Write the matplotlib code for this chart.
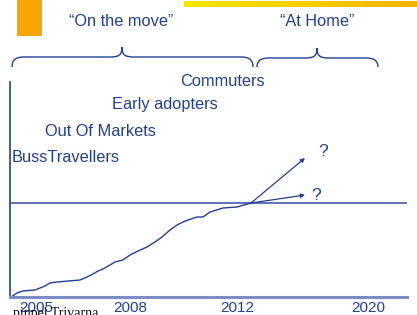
"""Adoption curve slide: 'On the move' vs 'At Home' segments."""
import matplotlib
matplotlib.use("Agg")
import matplotlib.pyplot as plt
import numpy as np
from matplotlib.path import Path
from matplotlib.patches import PathPatch, Rectangle

# timeline units along x, adoption units along y
TICK_POS = [26, 120, 227, 358]
TICK_LABELS = ["2005", "2008", "2012", "2020"]

CURVE_X = [1, 7, 13, 25, 30, 35, 40, 47, 70, 77, 83, 88, 93, 100, 105, 113,
           120, 128, 137, 145, 152, 160, 167, 173, 178, 187, 193, 200, 213,
           227, 241]
CURVE_Y = [0, 4, 6, 7, 9, 11, 14, 15, 17, 20, 23, 26, 28, 32, 35, 37,
           42, 46, 50, 55, 60, 67, 72, 75, 77, 80, 80, 85, 89, 90, 94]

PLATEAU = 94
ARROW_END_X = 295
ARROW_END_Y = [139, 102]

SEGMENTS = ["BussTravellers", "Out Of Markets", "Early adopters", "Commuters"]
SEGMENT_X = [2, 35, 102, 170]
SEGMENT_Y = [139, 166, 193, 215]

BLUE = "#213f95"
LINE_BLUE = "#5268b0"
AXIS_BLUE = "#7d8cc4"

W, H = 417, 315
plt.rcParams["font.family"] = ["Liberation Sans", "DejaVu Sans"]

fig = plt.figure(figsize=(W / 100, H / 100), dpi=100)

# overlay in pixel space for slide decorations
deco = fig.add_axes([0, 0, 1, 1])
deco.set_xlim(0, W)
deco.set_ylim(H, 0)
deco.set_axis_off()

deco.add_patch(Rectangle((17, 0), 25, 36, color="#f8a500", lw=0))
grad = np.linspace(0, 1, 256).reshape(1, -1)
cmap = matplotlib.colors.LinearSegmentedColormap.from_list(
    "bar", ["#f6e600", "#f8d000", "#f7b200"])
deco.imshow(grad, cmap=cmap, extent=(184, W, 7, 1), aspect="auto")
deco.set_xlim(0, W)
deco.set_ylim(H, 0)


def brace(ax, x0, x1, tip, y_end=67, y_mid=57, y_tip=47):
    r = 12
    verts = [(x0, y_end), (x0, y_mid + 2), (x0 + 5, y_mid), (x0 + r, y_mid),
             (tip - r, y_mid), (tip - 3, y_mid), (tip, y_mid - 2), (tip, y_tip),
             (tip, y_mid - 2), (tip + 3, y_mid), (tip + r, y_mid),
             (x1 - r, y_mid), (x1 - 5, y_mid), (x1, y_mid + 2), (x1, y_end)]
    codes = [Path.MOVETO, Path.CURVE4, Path.CURVE4, Path.CURVE4,
             Path.LINETO, Path.CURVE4, Path.CURVE4, Path.CURVE4,
             Path.CURVE4, Path.CURVE4, Path.CURVE4,
             Path.LINETO, Path.CURVE4, Path.CURVE4, Path.CURVE4]
    ax.add_patch(PathPatch(Path(verts, codes), fill=False, edgecolor=BLUE, lw=1.0))


brace(deco, 12, 253, 122)
brace(deco, 257, 378, 317, y_mid=58, y_tip=48)

deco.text(121, 21, "\u201cOn the move\u201d", ha="center", va="center",
          fontsize=11.8, color=BLUE)
deco.text(317, 21, "\u201cAt Home\u201d", ha="center", va="center",
          fontsize=11.8, color=BLUE)

# main chart
ax = fig.add_axes([10 / W, 18 / H, 397 / W, 215 / H])
ax.set_xlim(0, 397)
ax.set_ylim(0, 215)
ax.patch.set_alpha(0)
for side in ["top", "right"]:
    ax.spines[side].set_visible(False)
ax.spines["left"].set_color(BLUE)
ax.spines["left"].set_linewidth(1.2)
ax.spines["bottom"].set_color(AXIS_BLUE)
ax.spines["bottom"].set_linewidth(2.2)
ax.set_yticks([])
ax.set_xticks(TICK_POS)
ax.set_xticklabels(TICK_LABELS)
ax.tick_params(axis="x", length=0, pad=3, labelsize=11, labelcolor=BLUE)

ax.axhline(PLATEAU, color=LINE_BLUE, lw=1.3)
ax.plot(CURVE_X, CURVE_Y, color=BLUE, lw=1.0)

x_last, y_last = CURVE_X[-1], CURVE_Y[-1]
for y_end in ARROW_END_Y:
    ax.annotate("", xy=(ARROW_END_X, y_end), xytext=(x_last, y_last),
                arrowprops=dict(arrowstyle="-|>", color=BLUE, lw=0.9,
                                mutation_scale=6, shrinkA=0, shrinkB=0))
ax.text(313, 145, "?", ha="center", va="center", fontsize=12.5, color=BLUE)
ax.text(306, 102, "?", ha="center", va="center", fontsize=12.5, color=BLUE)

for name, x, y in zip(SEGMENTS, SEGMENT_X, SEGMENT_Y):
    ax.text(x, y, name, ha="left", va="center", fontsize=11.8, color=BLUE,
            clip_on=False)

fig.text(98 / W, -0.006, "pinpel Trivarna", ha="right", va="baseline",
         fontsize=10, color="#111111", family="Liberation Serif")

fig.savefig("out.png", dpi=100)
